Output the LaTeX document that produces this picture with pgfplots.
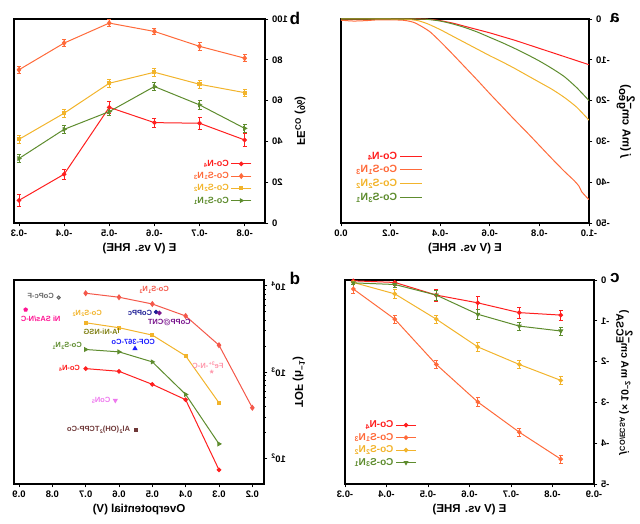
\documentclass[border=0pt]{standalone}
\usepackage{pgfplots}
\pgfplotsset{compat=1.18}
\usepackage{graphicx}
\usepackage{fontspec}
\setmainfont{Liberation Sans}
\definecolor{cN}{HTML}{FF1F1F}
\definecolor{cS1}{HTML}{FF6A3A}
\definecolor{cS2}{HTML}{F2B42C}
\definecolor{cS3}{HTML}{5E8C2E}
\definecolor{cS1d}{HTML}{F4584A}
\tikzset{lab/.style={font=\bfseries\fontsize{7.5}{8}\selectfont}}
\pgfplotsset{
  base/.style={scale only axis, anchor=south west,
    axis line style={line width=1.2pt}, tick style={line width=0.9pt, black},
    tick align=outside, tick pos=left, major tick length=3.5pt, minor tick length=2pt,
    /pgf/number format/assume math mode=true,
    tick label style={font=\bfseries\fontsize{9.5}{10}\selectfont},
    label style={font=\bfseries\fontsize{11.5}{13}\selectfont},
    every axis plot/.append style={line width=1pt},
    legend cell align=left,
  },
  eb/.style={error bars/.cd, y dir=both, y explicit,
    error bar style={line width=0.8pt},
    error mark options={rotate=90, mark size=2pt, line width=0.8pt}},
}
\begin{document}
\reflectbox{%
\begin{tikzpicture}
\path[use as bounding box] (0pt,0pt) rectangle (640pt,524pt);
% ---------------- panel a
\begin{axis}[base, at={(51pt,301pt)}, width=248pt, height=204pt,
  xmin=-1, xmax=0, ymin=-50, ymax=0,
  xtick={-1,-0.8,-0.6,-0.4,-0.2,0}, xticklabels={-1.0,-0.8,-0.6,-0.4,-0.2,0.0},
  ytick={-50,-40,-30,-20,-10,0}, yticklabels={-50,-40,-30,-20,-10,0},
  xlabel={E (V vs. RHE)},
  ylabel={\textit{j} (mA cm$^{\textbf{−2}}_{\textbf{geo}}$)},
  legend style={draw=none, fill=none, at={(axis description cs:0.66,0.37)}, anchor=north west,
    font=\bfseries\fontsize{10.5}{12}\selectfont, row sep=1pt},
  legend image code/.code={\draw[#1] (0pt,0pt) -- (22pt,0pt);}]
\addplot[cN, smooth, tension=0.4] coordinates {(-1,-11.2) (-0.95,-10.2) (-0.9,-9.2) (-0.85,-8.2) (-0.8,-7.2) (-0.75,-6.2) (-0.7,-5.2) (-0.65,-4.3) (-0.6,-3.4) (-0.55,-2.6) (-0.5,-1.8) (-0.45,-1.0) (-0.4,-0.4) (-0.36,-0.1) (-0.32,0) (-0.2,0) (0,0)};
\addplot[cS1, smooth, tension=0.4] coordinates {(-1,-44.3) (-0.98,-43.0) (-0.97,-42.3) (-0.96,-41.0) (-0.94,-39.6) (-0.9,-37.3) (-0.85,-34.2) (-0.8,-31.0) (-0.75,-27.8) (-0.7,-24.7) (-0.65,-21.5) (-0.6,-18.3) (-0.55,-15.0) (-0.5,-11.8) (-0.45,-8.6) (-0.4,-5.5) (-0.36,-3.2) (-0.33,-2.0) (-0.3,-1.0) (-0.28,-0.6) (-0.25,-0.3) (-0.2,-0.2) (-0.15,-0.2) (-0.1,-0.4) (-0.05,-0.5) (0,-0.3)};
\addplot[cS2, smooth, tension=0.4] coordinates {(-1,-24.8) (-0.95,-21.6) (-0.9,-19.2) (-0.85,-17.2) (-0.8,-15.5) (-0.75,-13.8) (-0.7,-12.1) (-0.65,-10.5) (-0.6,-9.0) (-0.55,-7.4) (-0.5,-5.8) (-0.45,-4.2) (-0.4,-2.6) (-0.35,-1.2) (-0.31,-0.4) (-0.27,-0.1) (-0.2,0) (0,0)};
\addplot[cS3, smooth, tension=0.4] coordinates {(-1,-20.0) (-0.95,-16.8) (-0.9,-14.1) (-0.85,-12.1) (-0.8,-10.3) (-0.75,-8.7) (-0.7,-7.2) (-0.65,-5.8) (-0.6,-4.5) (-0.55,-3.2) (-0.5,-2.1) (-0.45,-1.2) (-0.4,-0.5) (-0.35,-0.1) (-0.3,0) (0,0)};
\addlegendentry{\textcolor{cN}{Co-N\textsubscript{4}}}
\addlegendentry{\textcolor{cS1}{Co-S\textsubscript{1}N\textsubscript{3}}}
\addlegendentry{\textcolor{cS2}{Co-S\textsubscript{2}N\textsubscript{2}}}
\addlegendentry{\textcolor{cS3}{Co-S\textsubscript{3}N\textsubscript{1}}}
\end{axis}
% ---------------- panel b
\begin{axis}[base, at={(375pt,301pt)}, width=251pt, height=204pt,
  xmin=-0.845, xmax=-0.289, ymin=0, ymax=100,
  xtick={-0.8,-0.7,-0.6,-0.5,-0.4,-0.3}, xticklabels={-0.8,-0.7,-0.6,-0.5,-0.4,-0.3},
  ytick={0,20,40,60,80,100}, yticklabels={0,20,40,60,80,100},
  xlabel={E (V vs. RHE)},
  ylabel={FE\textsubscript{CO} (\%)},
  legend style={draw=none, fill=none, at={(axis description cs:0.04,0.33)}, anchor=north west,
    font=\bfseries\fontsize{9}{10}\selectfont, row sep=0.5pt},
  legend image code/.code={\draw[mark repeat=2,mark phase=2,#1] plot coordinates {(0pt,0pt) (10pt,0pt) (20pt,0pt)};}]
\addplot[cN, mark=*, mark size=1.8pt, eb] coordinates {(-0.3,11.1) +- (0,2.8) (-0.4,23.9) +- (0,2.5) (-0.5,56.7) +- (0,2.8) (-0.6,49.2) +- (0,2.3) (-0.7,48.9) +- (0,2.8) (-0.8,40.7) +- (0,3.0)};
\addplot[cS1, mark=diamond*, mark size=2.3pt, eb] coordinates {(-0.3,75.1) +- (0,1.6) (-0.4,88.2) +- (0,1.8) (-0.5,98.0) +- (0,1.6) (-0.6,93.9) +- (0,1.6) (-0.7,86.6) +- (0,1.8) (-0.8,80.8) +- (0,1.8)};
\addplot[cS2, mark=square*, mark size=1.6pt, eb] coordinates {(-0.3,41.0) +- (0,2.0) (-0.4,53.8) +- (0,1.8) (-0.5,68.5) +- (0,1.8) (-0.6,73.9) +- (0,1.8) (-0.7,68.0) +- (0,1.8) (-0.8,63.9) +- (0,1.8)};
\addplot[cS3, mark=triangle*, mark size=2pt, mark options={rotate=90}, eb] coordinates {(-0.3,31.6) +- (0,2.0) (-0.4,45.9) +- (0,2.0) (-0.5,54.6) +- (0,2.0) (-0.6,66.9) +- (0,1.8) (-0.7,57.9) +- (0,2.0) (-0.8,46.4) +- (0,2.0)};
\addlegendentry{\textcolor{cN}{Co-N\textsubscript{4}}}
\addlegendentry{\textcolor{cS1}{Co-S\textsubscript{1}N\textsubscript{3}}}
\addlegendentry{\textcolor{cS2}{Co-S\textsubscript{2}N\textsubscript{2}}}
\addlegendentry{\textcolor{cS3}{Co-S\textsubscript{3}N\textsubscript{1}}}
\end{axis}
% ---------------- panel c
\begin{axis}[base, at={(46pt,40pt)}, width=249pt, height=204pt,
  xmin=-0.9, xmax=-0.3, ymin=-5, ymax=0,
  xtick={-0.9,-0.8,-0.7,-0.6,-0.5,-0.4,-0.3}, xticklabels={-0.9,-0.8,-0.7,-0.6,-0.5,-0.4,-0.3},
  ytick={-5,-4,-3,-2,-1,0}, yticklabels={-5,-4,-3,-2,-1,0},
  xlabel={E (V vs. RHE)},
  ylabel={\textit{j}\textsubscript{CO/ECSA} (× 10\textsuperscript{−2} mA cm$^{\textbf{−2}}_{\textbf{ECSA}}$)},
  ylabel style={font=\bfseries\fontsize{10.5}{12}\selectfont},
  legend style={draw=none, fill=none, at={(axis description cs:0.70,0.33)}, anchor=north west,
    font=\bfseries\fontsize{10}{11}\selectfont, row sep=0pt},
  legend image code/.code={\draw[mark repeat=2,mark phase=2,#1] plot coordinates {(0pt,0pt) (10pt,0pt) (20pt,0pt)};}]
\addplot[cN, mark=*, mark size=1.8pt, eb] coordinates {(-0.32,-0.02) +- (0,0.05) (-0.42,-0.06) +- (0,0.08) (-0.52,-0.37) +- (0,0.15) (-0.62,-0.56) +- (0,0.17) (-0.72,-0.80) +- (0,0.13) (-0.82,-0.86) +- (0,0.12)};
\addplot[cS1, mark=*, mark size=1.8pt, eb] coordinates {(-0.32,-0.22) +- (0,0.1) (-0.42,-0.96) +- (0,0.1) (-0.52,-2.07) +- (0,0.1) (-0.62,-2.99) +- (0,0.12) (-0.72,-3.73) +- (0,0.1) (-0.82,-4.39) +- (0,0.1)};
\addplot[cS2, mark=*, mark size=1.8pt, eb] coordinates {(-0.32,-0.06) +- (0,0.05) (-0.42,-0.34) +- (0,0.12) (-0.52,-0.96) +- (0,0.1) (-0.62,-1.64) +- (0,0.1) (-0.72,-2.07) +- (0,0.1) (-0.82,-2.46) +- (0,0.1)};
\addplot[cS3, mark=triangle*, mark size=2pt, mark options={rotate=180}, eb] coordinates {(-0.32,-0.07) +- (0,0.05) (-0.42,-0.11) +- (0,0.08) (-0.52,-0.37) +- (0,0.12) (-0.62,-0.84) +- (0,0.12) (-0.72,-1.13) +- (0,0.1) (-0.82,-1.25) +- (0,0.1)};
\addlegendentry{\textcolor{cN}{Co-N\textsubscript{4}}}
\addlegendentry{\textcolor{cS1}{Co-S\textsubscript{1}N\textsubscript{3}}}
\addlegendentry{\textcolor{cS2}{Co-S\textsubscript{2}N\textsubscript{2}}}
\addlegendentry{\textcolor{cS3}{Co-S\textsubscript{3}N\textsubscript{1}}}
\end{axis}
% ---------------- panel d
\begin{axis}[base, at={(376pt,40pt)}, width=250pt, height=204pt,
  xmin=0.165, xmax=0.915, ymode=log, ymin=50, ymax=11700,
  xtick={0.2,0.3,0.4,0.5,0.6,0.7,0.8,0.9}, xticklabels={0.2,0.3,0.4,0.5,0.6,0.7,0.8,0.9},
  ytick={100,1000,10000}, yticklabels={10\textsuperscript{2},10\textsuperscript{3},10\textsuperscript{4}},
  xlabel={Overpotential (V)},
  ylabel={TOF (h\textsuperscript{−1})}]
\addplot[cS1d, mark=diamond*, mark size=2.3pt] coordinates {(0.7,8210) (0.6,7380) (0.5,6160) (0.4,4470) (0.3,2046) (0.2,384)};
\addplot[cS2, mark=square*, mark size=1.6pt] coordinates {(0.7,3730) (0.6,3264) (0.5,2680) (0.4,1537) (0.3,438)};
\addplot[cS3, mark=triangle*, mark size=2pt, mark options={rotate=90}] coordinates {(0.7,1825) (0.6,1712) (0.5,1309) (0.4,548) (0.3,146)};
\addplot[cN, mark=*, mark size=1.8pt] coordinates {(0.7,1094) (0.6,1018) (0.5,718) (0.4,476) (0.3,73)};
\addplot[only marks, mark=*, mark size=1.6pt, draw=gray!80!black, fill=gray!40] coordinates {(0.781,7310)};
\addplot[only marks, mark=pentagon*, mark size=1.8pt, color={rgb,255:red,255;green,20;blue,147}] coordinates {(0.880,5290)};
\addplot[only marks, mark=*, mark size=1.6pt, color={rgb,255:red,30;green,30;blue,150}] coordinates {(0.489,4975)};
\addplot[only marks, mark=*, mark size=1.8pt, color={rgb,255:red,120;green,20;blue,140}] coordinates {(0.479,4840)};
\addplot[only marks, mark=|, mark size=2.5pt, line width=1.2pt, color={rgb,255:red,128;green,128;blue,20}] coordinates {(0.602,3050)};
\addplot[only marks, mark=triangle*, mark size=2pt, color={rgb,255:red,30;green,30;blue,255}] coordinates {(0.552,1873)};
\addplot[only marks, mark=star, mark size=2pt, line width=0.8pt, color={rgb,255:red,255;green,150;blue,170}] coordinates {(0.322,1010)};
\addplot[only marks, mark=triangle*, mark size=2pt, mark options={rotate=180}, color={rgb,255:red,238;green,120;blue,238}] coordinates {(0.611,467)};
\addplot[only marks, mark=square*, mark size=1.5pt, color={rgb,255:red,110;green,55;blue,55}] coordinates {(0.549,212)};
\node[lab, text=cS1d] at (axis cs:0.495,8980) {Co-S\textsubscript{1}N\textsubscript{3}};
\node[lab, text=cS2] at (axis cs:0.696,4790) {Co-S\textsubscript{2}N\textsubscript{2}};
\node[lab, text=cS3] at (axis cs:0.756,2010) {Co-S\textsubscript{3}N\textsubscript{1}};
\node[lab, text=cN] at (axis cs:0.749,1094) {Co-N\textsubscript{4}};
\node[lab, text=gray!80!black] at (axis cs:0.835,7600) {CoPc-F};
\node[lab, text={rgb,255:red,255;green,20;blue,147}] at (axis cs:0.835,4085) {Ni SAs/N-C};
\node[lab, text={rgb,255:red,30;green,30;blue,150}] at (axis cs:0.537,4795) {CoPPc};
\node[lab, text={rgb,255:red,120;green,20;blue,140}] at (axis cs:0.449,3733) {CoPP@CNT};
\node[lab, text={rgb,255:red,128;green,128;blue,20}] at (axis cs:0.655,2930) {A-Ni-NSG};
\node[lab, text={rgb,255:red,30;green,30;blue,255}] at (axis cs:0.557,2240) {COF-367-Co};
\node[lab, text={rgb,255:red,255;green,150;blue,170}] at (axis cs:0.333,1197) {Fe\textsuperscript{3+}-N-C};
\node[lab, text={rgb,255:red,238;green,120;blue,238}] at (axis cs:0.654,467) {CoN\textsubscript{5}};
\node[lab, text={rgb,255:red,110;green,55;blue,55}, anchor=west] at (axis cs:0.556,212) {Al\textsubscript{2}(OH)\textsubscript{2}TCPP-Co};
\end{axis}
% panel letters
\node[font=\bfseries\fontsize{17}{18}\selectfont] at (25pt,506pt) {a};
\node[font=\bfseries\fontsize{17}{18}\selectfont] at (345pt,506pt) {b};
\node[font=\bfseries\fontsize{17}{18}\selectfont] at (25pt,246pt) {c};
\node[font=\bfseries\fontsize{17}{18}\selectfont] at (345pt,246pt) {d};
\end{tikzpicture}}
\end{document}
